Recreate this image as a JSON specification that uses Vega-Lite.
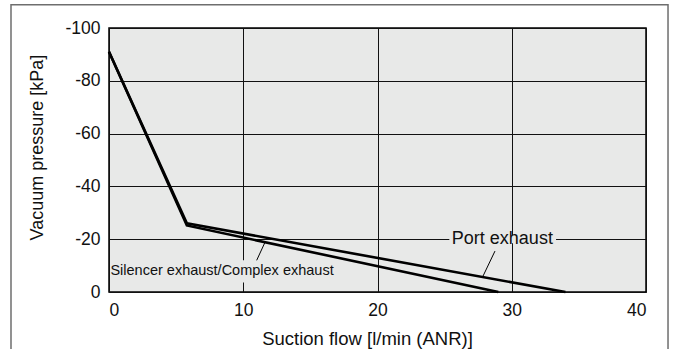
{
  "$schema": "https://vega.github.io/schema/vega-lite/v6.json",
  "autosize": "none",
  "width": 537,
  "height": 264,
  "padding": {"left": 109, "top": 28, "right": 28, "bottom": 57},
  "background": "white",
  "config": {
    "font": "Liberation Sans",
    "view": {"fill": "#e8e9e8", "stroke": "#000", "strokeWidth": 1.5},
    "axis": {
      "grid": true, "gridColor": "#111", "gridWidth": 1, "gridOpacity": 1,
      "domain": false, "ticks": false,
      "labelFont": "Liberation Sans", "labelFontSize": 17.5, "labelColor": "#111",
      "labelExpr": "toString(datum.value)",
      "titleFont": "Liberation Sans", "titleFontSize": 18, "titleFontWeight": "normal", "titleColor": "#111"
    }
  },
  "datasets": {
    "curves": [
      {"flow": 0, "pressure": -91, "series": "Silencer exhaust/Complex exhaust"},
      {"flow": 5.8, "pressure": -25.2, "series": "Silencer exhaust/Complex exhaust"},
      {"flow": 29.0, "pressure": 0, "series": "Silencer exhaust/Complex exhaust"},
      {"flow": 0, "pressure": -91, "series": "Port exhaust"},
      {"flow": 5.8, "pressure": -26, "series": "Port exhaust"},
      {"flow": 34.0, "pressure": 0, "series": "Port exhaust"}
    ],
    "labels": [
      {"text": "Port exhaust", "x": 29.3, "y": -20, "bx1": 25.35, "bx2": 33.3, "by1": -18.5, "by2": -21.5, "lx1": 28.75, "ly1": -15.5, "lx2": 27.83, "ly2": -5.7, "narrow": false},
      {"text": "Silencer exhaust/Complex exhaust", "x": 8.42, "y": -7.9, "bx1": 0.3, "bx2": 16.4, "by1": -3.6, "by2": -12.0, "lx1": 11.6, "ly1": -18.6, "lx2": 11.0, "ly2": -12.0, "narrow": true}
    ],
    "frame": [
      {"x1": -7.3, "x2": 41.64, "y1": -108.8, "y2": 25}
    ]
  },
  "layer": [
    {
      "data": {"name": "frame"},
      "mark": {"type": "rect", "fill": null, "stroke": "#6e6e6e", "strokeWidth": 1.5, "clip": false},
      "encoding": {
        "x": {"field": "x1", "type": "quantitative"},
        "x2": {"field": "x2"},
        "y": {"field": "y1", "type": "quantitative"},
        "y2": {"field": "y2"}
      }
    },
    {
      "data": {"name": "labels"},
      "mark": {"type": "rect", "fill": "#e8e9e8", "stroke": null},
      "encoding": {
        "x": {"field": "bx1", "type": "quantitative"},
        "x2": {"field": "bx2"},
        "y": {"field": "by1", "type": "quantitative"},
        "y2": {"field": "by2"}
      }
    },
    {
      "data": {"name": "curves"},
      "mark": {"type": "line", "color": "#000", "strokeWidth": 2.6},
      "encoding": {
        "x": {"field": "flow", "type": "quantitative",
          "scale": {"domain": [0, 40], "nice": false},
          "axis": {"values": [0, 10, 20, 30, 40], "title": "Suction flow [l/min (ANR)]", "labelPadding": 9,
            "titleX": 258, "titleY": 46, "titleAlign": "center", "titleBaseline": "middle", "titleFontSize": 18.5}},
        "y": {"field": "pressure", "type": "quantitative",
          "scale": {"domain": [-100, 0], "reverse": true, "nice": false, "zero": false},
          "axis": {"values": [-100, -80, -60, -40, -20, 0], "title": "Vacuum pressure [kPa]", "labelPadding": 9,
            "titleX": -72, "titleY": 119, "titleAngle": -90, "titleAlign": "center", "titleBaseline": "middle"}},
        "detail": {"field": "series"}
      }
    },
    {
      "data": {"name": "labels"},
      "mark": {"type": "rule", "color": "#000", "strokeWidth": 1},
      "encoding": {
        "x": {"field": "lx1", "type": "quantitative"},
        "x2": {"field": "lx2"},
        "y": {"field": "ly1", "type": "quantitative"},
        "y2": {"field": "ly2"}
      }
    },
    {
      "data": {"name": "labels"},
      "transform": [{"filter": "!datum.narrow"}],
      "mark": {"type": "text", "font": "Liberation Sans", "fontSize": 18, "align": "center", "baseline": "middle", "color": "#111"},
      "encoding": {
        "x": {"field": "x", "type": "quantitative"},
        "y": {"field": "y", "type": "quantitative"},
        "text": {"field": "text"}
      }
    },
    {
      "data": {"name": "labels"},
      "transform": [{"filter": "datum.narrow"}],
      "mark": {"type": "text", "font": "Liberation Sans", "fontSize": 14.5, "align": "center", "baseline": "middle", "color": "#111"},
      "encoding": {
        "x": {"field": "x", "type": "quantitative"},
        "y": {"field": "y", "type": "quantitative"},
        "text": {"field": "text"}
      }
    }
  ]
}
